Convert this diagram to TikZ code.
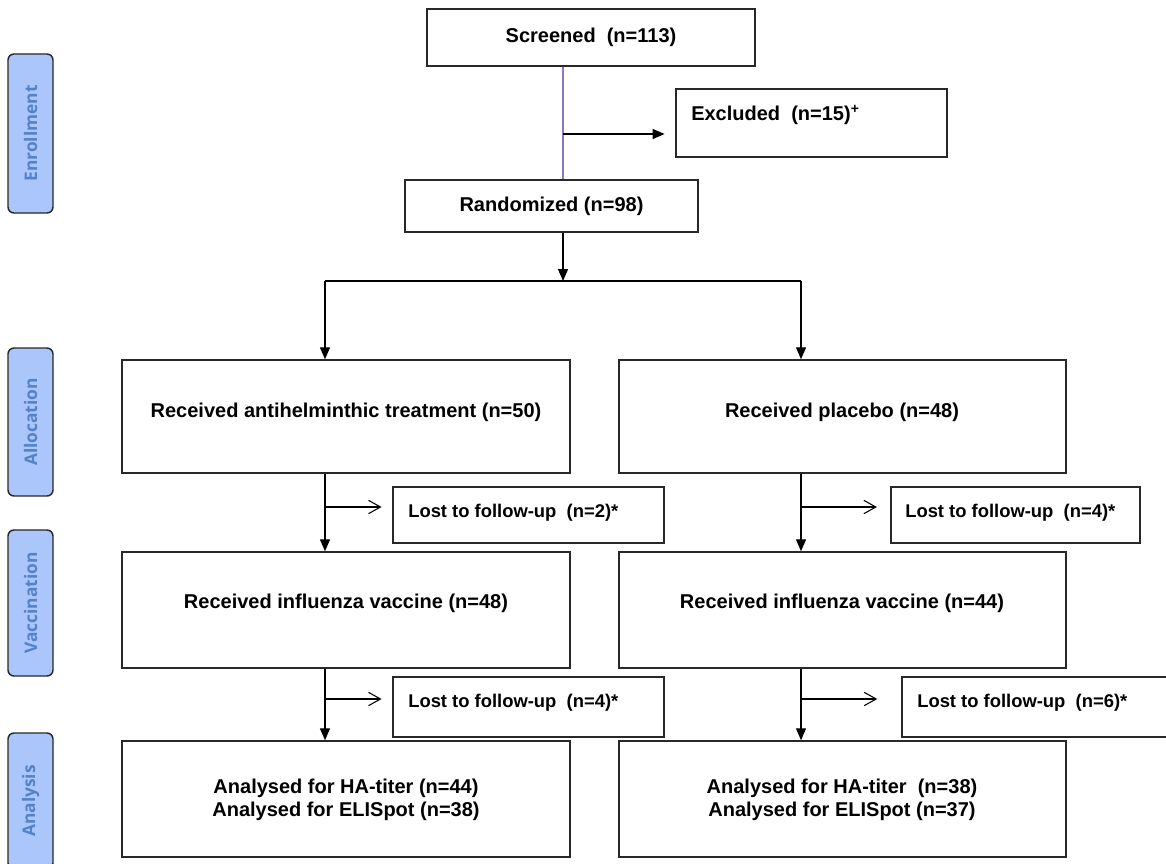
\documentclass[tikz,border=0pt]{standalone}
\usepackage{fontspec}
\setmainfont{Liberation Sans}
\newfontfamily\labfont{Open Sans}
\usetikzlibrary{arrows.meta,fit}
\definecolor{labfill}{RGB}{170,198,250}
\definecolor{labtext}{RGB}{84,130,200}
\definecolor{purp}{RGB}{140,120,190}
\definecolor{edge}{RGB}{40,40,40}
\begin{document}
\begin{tikzpicture}[x=0.75pt,y=-0.75pt,
  box/.style={draw=edge, line width=1.1pt, rectangle, inner sep=0pt},
  txt/.style={font=\fontsize{15}{17.5}\selectfont\bfseries, inner sep=0pt, align=center},
  ltxt/.style={font=\fontsize{13.8}{16}\selectfont\bfseries, inner sep=0pt, anchor=west},
  side/.style={draw=edge, line width=1.1pt, fill=labfill, rounded corners=4.5pt, inner sep=0pt},
  sidetxt/.style={font=\labfont\fontsize{13}{15}\selectfont\bfseries, text=labtext, rotate=90, inner sep=0pt},
  arr/.style={line width=1pt, -{Triangle[length=9pt,width=7.5pt]}},
  oarr/.style={line width=0.8pt, -{Straight Barb[length=9pt,width=10pt]}},
  ln/.style={line width=1pt}
]
\useasboundingbox (0,0) rectangle (1166,863);

% side labels
\node[side, fit={(8,54) (53,213)}] (sEnr) {};
\node[sidetxt] (tEnr) at (sEnr.center) {Enrollment};
\node[side, fit={(8,348) (53,496)}] (sAll) {};
\node[sidetxt] (tAll) at (sAll.center) {Allocation};
\node[side, fit={(8,530) (53,676)}] (sVac) {};
\node[sidetxt] (tVac) at (sVac.center) {Vaccination};
\node[side, fit={(8,733) (53,869)}] (sAna) {};
\node[sidetxt] (tAna) at (sAna.center) {Analysis};

% boxes
\node[box, fit={(427,9) (755,66)}] (scr) {};
\node[txt] (scrT) at (scr.center) {Screened\ \ (n=113)};
\node[box, fit={(676,89) (947,157)}] (exc) {};
\node[ltxt, font=\fontsize{15}{17.5}\selectfont\bfseries] (excT) at (691,115) {Excluded\ \ (n=15)\textsuperscript{+}};
\node[box, fit={(405,180) (698,232)}] (rnd) {};
\node[txt] (rndT) at (rnd.center) {Randomized (n=98)};

\node[box, fit={(122,360) (570,473)}] (trt) {};
\node[txt] (trtT) at (346,412) {Received antihelminthic treatment (n=50)};
\node[box, fit={(619,360) (1066,473)}] (plc) {};
\node[txt] (plcT) at (842,412) {Received placebo (n=48)};

\node[box, fit={(393,487) (664,543)}] (l1L) {};
\node[ltxt] (l1LT) at (408,513) {Lost to follow-up\ \ (n=2)*};
\node[box, fit={(891,487) (1140,543)}] (l1R) {};
\node[ltxt] (l1RT) at (905,513) {Lost to follow-up\ \ (n=4)*};

\node[box, fit={(122,552) (570,668)}] (vacL) {};
\node[txt] (vacLT) at (346,603) {Received influenza vaccine (n=48)};
\node[box, fit={(619,552) (1066,668)}] (vacR) {};
\node[txt] (vacRT) at (842,603) {Received influenza vaccine (n=44)};

\node[box, fit={(393,677) (664,737)}] (l2L) {};
\node[ltxt] (l2LT) at (408,703) {Lost to follow-up\ \ (n=4)*};
\node[box, fit={(902,677) (1185,737)}] (l2R) {};
\node[ltxt] (l2RT) at (917,703) {Lost to follow-up\ \ (n=6)*};

\node[box, fit={(122,741) (570,857)}] (anaL) {};
\node[txt] (anaLT) at (346,800) {Analysed for HA-titer (n=44)\\Analysed for ELISpot (n=38)};
\node[box, fit={(619,741) (1066,857)}] (anaR) {};
\node[txt] (anaRT) at (842,800) {Analysed for HA-titer\ \ (n=38)\\Analysed for ELISpot (n=37)};

% connector coordinates
\coordinate (xm) at (563,134);
\coordinate (split) at (563,281);
\coordinate (colL) at (325,281);
\coordinate (colR) at (801,281);
\coordinate (b1L) at (325,507);
\coordinate (b1R) at (801,507);
\coordinate (b2L) at (325,699);
\coordinate (b2R) at (801,699);

% connectors
\draw[ln, draw=purp] (scr.south -| xm) -- (rnd.north -| xm);
\draw[arr] (xm) -- (exc.west |- xm) [shorten >=8pt];
\draw[arr] (rnd.south -| xm) -- (split);
\draw[ln] (colL) -- (colR);
\draw[arr] (colL) -- (colL |- trt.north);
\draw[arr] (colR) -- (colR |- plc.north);

\draw[arr] (colL |- trt.south) -- (colL |- vacL.north);
\draw[arr] (colR |- plc.south) -- (colR |- vacR.north);
\draw[oarr, shorten >=8pt] (b1L) -- (b1L -| l1L.west);
\draw[oarr, shorten >=10pt] (b1R) -- (b1R -| l1R.west);

\draw[arr] (colL |- vacL.south) -- (colL |- anaL.north);
\draw[arr] (colR |- vacR.south) -- (colR |- anaR.north);
\draw[oarr, shorten >=8pt] (b2L) -- (b2L -| l2L.west);
\draw[oarr, shorten >=18pt] (b2R) -- (b2R -| l2R.west);
\end{tikzpicture}
\end{document}
